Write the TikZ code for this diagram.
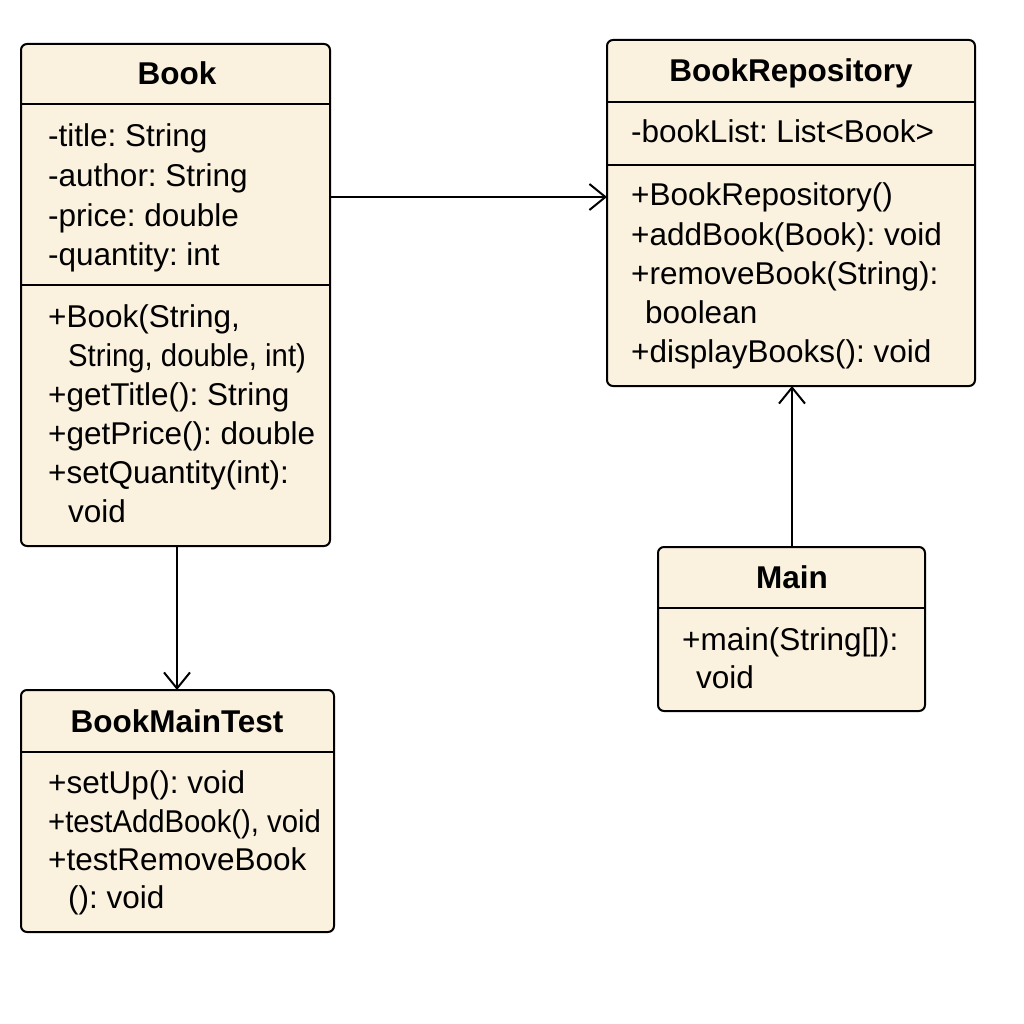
\documentclass[tikz,border=0pt]{standalone}
\usepackage{fontspec}
\setmainfont{Liberation Sans}
\usetikzlibrary{arrows.meta}
\definecolor{cream}{RGB}{250,241,222}
\frenchspacing
\begin{document}
\begin{tikzpicture}[x=1pt,y=-1pt,
  classbox/.style={draw=black, fill=cream, line width=2pt, rounded corners=6pt, inner sep=0pt, outer sep=0pt},
  divider/.style={draw=black, line width=2pt},
  ttl/.style={anchor=base, inner sep=0pt, font=\fontsize{31.5}{38}\selectfont\bfseries},
  txt/.style={anchor=base west, inner sep=0pt, font=\fontsize{31.5}{38}\selectfont\frenchspacing},
  conn/.style={draw=black, line width=2pt, -{Straight Barb[length=16pt,width=26pt,line width=2pt]}}]
\useasboundingbox (0,0) rectangle (1024,1024);
\fill[white] (0,0) rectangle (1024,1024);

% Boxes
\node[classbox, minimum width=309pt, minimum height=502pt] (book) at (175.5,295) {};
\node[classbox, minimum width=368pt, minimum height=346pt] (repo) at (791,213) {};
\node[classbox, minimum width=267pt, minimum height=164pt] (main) at (791.5,629) {};
\node[classbox, minimum width=313pt, minimum height=242pt] (bmt) at (177.5,811) {};

% Dividers
\draw[divider] (21,104) -- (330,104);
\draw[divider] (21,285) -- (330,285);
\draw[divider] (607,102) -- (975,102);
\draw[divider] (607,165) -- (975,165);
\draw[divider] (658,608) -- (925,608);
\draw[divider] (21,752) -- (334,752);

% Book
\node[ttl] (bookT) at (177,85) {Book};
\node[txt] (b1) at (48,147) {-title: String};
\node[txt] (b2) at (48,187) {-author: String};
\node[txt] (b3) at (48,226) {-price: double};
\node[txt] (b4) at (48,265) {-quantity: int};
\node[txt] (b5) at (48,327) {+Book(String,};
\node[txt] (b6) at (68,366) {\scalebox{0.93}[1]{String, double, int)}};
\node[txt] (b7) at (48,405) {+getTitle(): String};
\node[txt] (b8) at (48,444) {+getPrice(): double};
\node[txt] (b9) at (48,483) {+setQuantity(int):};
\node[txt] (b10) at (68,522) {void};

% BookRepository
\node[ttl] (repoT) at (791,82) {BookRepository};
\node[txt] (r1) at (631,143) {-bookList: List<Book>};
\node[txt] (r2) at (631,206) {+BookRepository()};
\node[txt] (r3) at (631,245) {+addBook(Book): void};
\node[txt] (r4) at (631,284) {+removeBook(String):};
\node[txt] (r5) at (645,323) {boolean};
\node[txt] (r6) at (631,362) {+displayBooks(): void};

% Main
\node[ttl] (mainT) at (792,588) {Main};
\node[txt] (m1) at (682,650) {+main(String[]):};
\node[txt] (m2) at (696,688) {void};

% BookMainTest
\node[ttl] (bmtT) at (177,732) {BookMainTest};
\node[txt] (t1) at (48,793) {+setUp(): void};
\node[txt] (t2) at (48,832) {\scalebox{0.93}[1]{+testAddBook(), void}};
\node[txt] (t3) at (48,870) {+testRemoveBook};
\node[txt] (t4) at (68,908) {(): void};

% Connectors
\coordinate (a1) at (330,197);
\draw[conn] (a1) -- (a1 -| repo.west);
\coordinate (a2) at (177,546);
\draw[conn] (a2) -- (a2 |- bmt.north);
\coordinate (a3) at (792,547);
\draw[conn] (a3) -- (a3 |- repo.south);
\end{tikzpicture}
\end{document}
